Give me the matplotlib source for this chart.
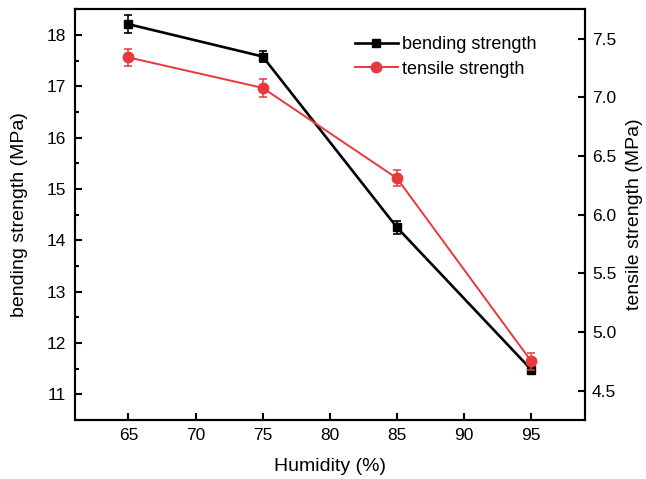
import numpy as np
import matplotlib.pyplot as plt
from matplotlib.ticker import MultipleLocator
from matplotlib.lines import Line2D

plt.rcParams['font.family'] = ['Liberation Sans', 'DejaVu Sans']

humidity = [65, 75, 85, 95]
bending = [18.21, 17.58, 14.25, 11.48]
bending_err = [0.18, 0.11, 0.13, 0.09]
tensile = [7.34, 7.08, 6.31, 4.75]
tensile_err = [0.075, 0.075, 0.07, 0.07]

black = '#000000'
red = '#e8383d'

fig = plt.figure(figsize=(6.46, 4.79), dpi=100)
ax = fig.add_axes([0.1156, 0.1232, 0.79, 0.8574])
ax2 = ax.twinx()

ax.errorbar(humidity, bending, yerr=bending_err, color=black, marker='s', markersize=6.3,
            linewidth=1.9, capsize=3, elinewidth=1.2, capthick=1.2)
ax2.errorbar(humidity, tensile, yerr=tensile_err, color=red, marker='o', markersize=7.5,
             linewidth=1.4, capsize=3, elinewidth=1.1, capthick=1.1)

ax.set_xlim(61, 99)
ax.set_ylim(10.5, 18.5)
ax2.set_ylim(4.25, 7.75)
ax.set_xticks([65, 70, 75, 80, 85, 90, 95])
ax.yaxis.set_major_locator(MultipleLocator(1))
ax.yaxis.set_minor_locator(MultipleLocator(0.5))
ax2.set_yticks([4.5, 5.0, 5.5, 6.0, 6.5, 7.0, 7.5])

for a in (ax, ax2):
    for s in a.spines.values():
        s.set_linewidth(1.5)
ax.tick_params(axis='x', which='major', direction='in', length=5, width=1.5, labelsize=12.5, pad=6)
ax.tick_params(axis='y', which='major', direction='in', length=5, width=1.5, labelsize=12.5, pad=6)
ax.tick_params(axis='y', which='minor', direction='in', length=3, width=1.5)
ax2.tick_params(which='major', direction='in', length=5, width=1.5, labelsize=12.5, pad=5)

ax.set_xlabel('Humidity (%)', fontsize=14)
ax.set_ylabel('bending strength (MPa)', fontsize=14)
ax2.set_ylabel('tensile strength (MPa)', fontsize=14)
ax.xaxis.set_label_coords(0.5, -0.092)
ax.yaxis.set_label_coords(-0.091, 0.5)
ax2.yaxis.set_label_coords(1.08, 0.5)

handles = [Line2D([], [], color=black, marker='s', markersize=6.3, linewidth=1.9),
           Line2D([], [], color=red, marker='o', markersize=7.5, linewidth=1.4)]
ax.legend(handles, ['bending strength', 'tensile strength'], loc='upper left',
          bbox_to_anchor=(0.5166, 0.974), frameon=False, fontsize=13,
          handlelength=2.4, handletextpad=0.2, labelspacing=0.42)

fig.savefig('out.png', dpi=100)
